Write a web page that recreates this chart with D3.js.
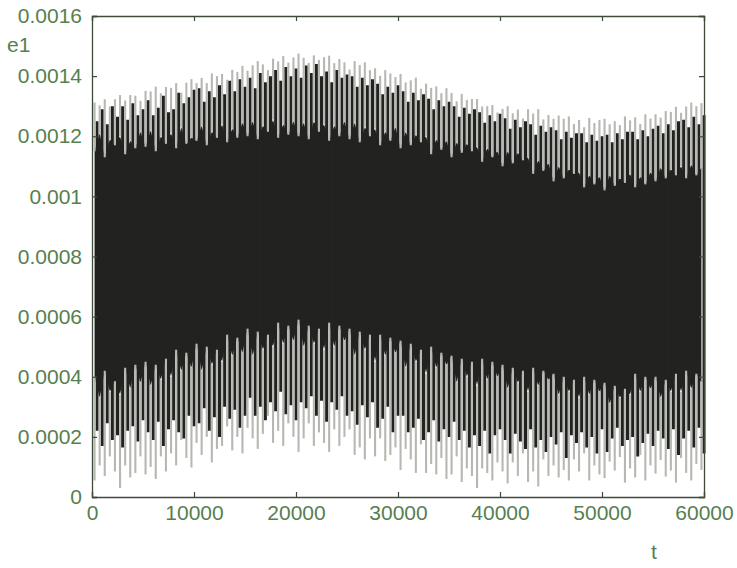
<!DOCTYPE html>
<html lang="en">
  <head>
    <meta charset="utf-8">
    <title>e1 vs t</title>
    <script src="https://d3js.org/d3.v7.min.js"></script>
    <style>
      body { margin: 0; background: #fff; }
      text { font-family: "Liberation Sans", Arial, sans-serif; }
    </style>
  </head>
  <body>
    <div id="chart"></div>
    <script type="text/javascript">
      // tick values
      var xTicks = [0, 10000, 20000, 30000, 40000, 50000, 60000];
      var yTicks = [0, 0.0002, 0.0004, 0.0006, 0.0008, 0.001, 0.0012, 0.0014, 0.0016];
      var yTickLabels = ["0", "0.0002", "0.0004", "0.0006", "0.0008", "0.001", "0.0012", "0.0014", "0.0016"];

      // one oscillation every 500 time units
      var cycleT = d3.range(250, 60000, 500);

      // upper tips of each oscillation (light spikes)
      var peaks = [
        0.001312, 0.001303, 0.001323, 0.001299, 0.001323,
        0.001337, 0.001319, 0.001337, 0.001335, 0.001318,
        0.001351, 0.001349, 0.001365, 0.001343, 0.001364,
        0.001361, 0.001377, 0.001345, 0.001378, 0.001390,
        0.001377, 0.001394, 0.001377, 0.001409, 0.001400,
        0.001407, 0.001388, 0.001421, 0.001414, 0.001434,
        0.001418, 0.001436, 0.001450, 0.001439, 0.001420,
        0.001458, 0.001449, 0.001467, 0.001445, 0.001462,
        0.001475, 0.001461, 0.001444, 0.001469, 0.001454,
        0.001463, 0.001468, 0.001443, 0.001457, 0.001446,
        0.001422, 0.001450, 0.001437, 0.001446, 0.001420,
        0.001426, 0.001401, 0.001420, 0.001409, 0.001397,
        0.001407, 0.001379, 0.001386, 0.001395, 0.001358,
        0.001375, 0.001361, 0.001366, 0.001343, 0.001360,
        0.001344, 0.001316, 0.001341, 0.001321, 0.001324,
        0.001324, 0.001299, 0.001300, 0.001304, 0.001279,
        0.001291, 0.001300, 0.001276, 0.001289, 0.001259,
        0.001290, 0.001276, 0.001290, 0.001256, 0.001271,
        0.001258, 0.001269, 0.001258, 0.001266, 0.001241,
        0.001254, 0.001230, 0.001261, 0.001244, 0.001254,
        0.001258, 0.001240, 0.001250, 0.001237, 0.001266,
        0.001253, 0.001263, 0.001241, 0.001273, 0.001259,
        0.001273, 0.001262, 0.001284, 0.001281, 0.001298,
        0.001278, 0.001299, 0.001312, 0.001300, 0.001310
      ];

      // lower tips of each oscillation (light spikes)
      var troughs = [
        0.000055, 0.000105, 0.000070, 0.000135, 0.000085,
        0.000030, 0.000105, 0.000065, 0.000080, 0.000135,
        0.000075, 0.000100, 0.000060, 0.000135, 0.000085,
        0.000145, 0.000105, 0.000190, 0.000130, 0.000098,
        0.000180, 0.000140, 0.000200, 0.000115, 0.000160,
        0.000170, 0.000235, 0.000155, 0.000200, 0.000145,
        0.000230, 0.000195, 0.000160, 0.000210, 0.000270,
        0.000180, 0.000220, 0.000170, 0.000245, 0.000200,
        0.000150, 0.000195, 0.000245, 0.000170, 0.000215,
        0.000180, 0.000150, 0.000225, 0.000170, 0.000200,
        0.000225, 0.000140, 0.000165, 0.000125, 0.000195,
        0.000135, 0.000195, 0.000120, 0.000140, 0.000165,
        0.000090, 0.000160, 0.000125, 0.000080, 0.000175,
        0.000080, 0.000110, 0.000075, 0.000130, 0.000060,
        0.000075, 0.000135, 0.000050, 0.000095, 0.000070,
        0.000030, 0.000095, 0.000080, 0.000055, 0.000115,
        0.000085, 0.000045, 0.000115, 0.000070, 0.000145,
        0.000050, 0.000085, 0.000035, 0.000125, 0.000070,
        0.000105, 0.000065, 0.000090, 0.000055, 0.000125,
        0.000085, 0.000145, 0.000055, 0.000105, 0.000075,
        0.000063, 0.000118, 0.000088, 0.000133, 0.000048,
        0.000095, 0.000065, 0.000140, 0.000055, 0.000105,
        0.000078, 0.000123, 0.000068, 0.000088, 0.000048,
        0.000130, 0.000080, 0.000055, 0.000110, 0.000090
      ];

      // secondary (dark) swings between the light spikes, half a cycle later
      var innerPeaks = [
        0.001250, 0.001290, 0.001240, 0.001300, 0.001265,
        0.001300, 0.001255, 0.001310, 0.001270, 0.001290,
        0.001320, 0.001270, 0.001295, 0.001335, 0.001280,
        0.001290, 0.001345, 0.001310, 0.001330, 0.001355,
        0.001360, 0.001315, 0.001350, 0.001330, 0.001370,
        0.001340, 0.001385, 0.001350, 0.001390, 0.001365,
        0.001395, 0.001360, 0.001410, 0.001380, 0.001400,
        0.001420, 0.001385, 0.001430, 0.001400, 0.001425,
        0.001395, 0.001435, 0.001410, 0.001440, 0.001400,
        0.001415, 0.001380, 0.001420, 0.001395, 0.001405,
        0.001400, 0.001365, 0.001395, 0.001370, 0.001390,
        0.001375, 0.001340, 0.001365, 0.001345, 0.001370,
        0.001350, 0.001315, 0.001345, 0.001320, 0.001340,
        0.001325, 0.001290, 0.001320, 0.001300, 0.001315,
        0.001300, 0.001265, 0.001295, 0.001275, 0.001290,
        0.001280, 0.001245, 0.001270, 0.001250, 0.001275,
        0.001260, 0.001225, 0.001255, 0.001230, 0.001250,
        0.001240, 0.001205, 0.001235, 0.001215, 0.001230,
        0.001220, 0.001190, 0.001215, 0.001195, 0.001210,
        0.001210, 0.001180, 0.001205, 0.001185, 0.001200,
        0.001205, 0.001180, 0.001210, 0.001190, 0.001215,
        0.001215, 0.001190, 0.001220, 0.001200, 0.001225,
        0.001235, 0.001210, 0.001240, 0.001220, 0.001250,
        0.001255, 0.001230, 0.001265, 0.001240, 0.001270
      ];
      var innerTroughs = [
        0.000220, 0.000170, 0.000245, 0.000190, 0.000205,
        0.000165, 0.000220, 0.000235, 0.000185, 0.000255,
        0.000215, 0.000190, 0.000250, 0.000170, 0.000225,
        0.000255, 0.000215, 0.000195, 0.000270, 0.000235,
        0.000245, 0.000295, 0.000220, 0.000265, 0.000200,
        0.000300, 0.000260, 0.000290, 0.000230, 0.000270,
        0.000330, 0.000270, 0.000300, 0.000255, 0.000315,
        0.000285, 0.000350, 0.000275, 0.000305, 0.000255,
        0.000315, 0.000295, 0.000335, 0.000270, 0.000320,
        0.000250, 0.000315, 0.000290, 0.000335, 0.000270,
        0.000285, 0.000240, 0.000305, 0.000265, 0.000315,
        0.000230, 0.000260, 0.000300, 0.000215, 0.000270,
        0.000270, 0.000215, 0.000230, 0.000260, 0.000190,
        0.000215, 0.000255, 0.000185, 0.000225, 0.000200,
        0.000250, 0.000190, 0.000220, 0.000165, 0.000205,
        0.000170, 0.000220, 0.000145, 0.000205, 0.000225,
        0.000190, 0.000145, 0.000210, 0.000185, 0.000160,
        0.000225, 0.000165, 0.000190, 0.000150, 0.000200,
        0.000175, 0.000215, 0.000130, 0.000205, 0.000180,
        0.000215, 0.000165, 0.000200, 0.000145, 0.000225,
        0.000150, 0.000195, 0.000230, 0.000170, 0.000190,
        0.000200, 0.000135, 0.000180, 0.000210, 0.000170,
        0.000220, 0.000195, 0.000160, 0.000225, 0.000140,
        0.000195, 0.000220, 0.000165, 0.000230, 0.000145
      ];

      // how far each light spike shows before it sinks into the black band
      var upperReach = [
        0.001150, 0.001210, 0.001130, 0.001190, 0.001170,
        0.001200, 0.001140, 0.001185, 0.001160, 0.001215,
        0.001165, 0.001220, 0.001150, 0.001200, 0.001175,
        0.001210, 0.001160, 0.001230, 0.001175, 0.001195,
        0.001185, 0.001235, 0.001170, 0.001215, 0.001195,
        0.001240, 0.001180, 0.001225, 0.001195, 0.001245,
        0.001200, 0.001250, 0.001190, 0.001235, 0.001215,
        0.001255, 0.001195, 0.001240, 0.001205, 0.001250,
        0.001200, 0.001245, 0.001190, 0.001250, 0.001215,
        0.001240, 0.001185, 0.001235, 0.001200, 0.001250,
        0.001190, 0.001245, 0.001180, 0.001230, 0.001200,
        0.001225, 0.001170, 0.001215, 0.001185, 0.001230,
        0.001160, 0.001215, 0.001170, 0.001205, 0.001180,
        0.001200, 0.001140, 0.001190, 0.001155, 0.001185,
        0.001130, 0.001180, 0.001145, 0.001175, 0.001150,
        0.001165, 0.001115, 0.001160, 0.001130, 0.001150,
        0.001100, 0.001150, 0.001110, 0.001145, 0.001120,
        0.001130, 0.001075, 0.001120, 0.001085, 0.001110,
        0.001050, 0.001100, 0.001060, 0.001090, 0.001075,
        0.001080, 0.001030, 0.001070, 0.001040, 0.001065,
        0.001020, 0.001070, 0.001035, 0.001060, 0.001045,
        0.001075, 0.001030, 0.001065, 0.001040, 0.001080,
        0.001050, 0.001095, 0.001060, 0.001090, 0.001070,
        0.001100, 0.001060, 0.001105, 0.001070, 0.001095
      ];
      var lowerReach = [
        0.000400, 0.000330, 0.000420, 0.000350, 0.000385,
        0.000340, 0.000430, 0.000360, 0.000440, 0.000380,
        0.000450, 0.000370, 0.000440, 0.000390, 0.000460,
        0.000400, 0.000490, 0.000420, 0.000480, 0.000430,
        0.000510, 0.000420, 0.000500, 0.000440, 0.000490,
        0.000450, 0.000540, 0.000470, 0.000530, 0.000480,
        0.000560, 0.000470, 0.000550, 0.000490, 0.000540,
        0.000500, 0.000580, 0.000510, 0.000570, 0.000520,
        0.000590, 0.000500, 0.000570, 0.000510, 0.000560,
        0.000490, 0.000580, 0.000500, 0.000570, 0.000520,
        0.000560, 0.000470, 0.000550, 0.000490, 0.000540,
        0.000450, 0.000540, 0.000470, 0.000530, 0.000480,
        0.000520, 0.000430, 0.000510, 0.000450, 0.000490,
        0.000410, 0.000500, 0.000430, 0.000480, 0.000440,
        0.000470, 0.000380, 0.000460, 0.000400, 0.000450,
        0.000370, 0.000460, 0.000390, 0.000450, 0.000400,
        0.000440, 0.000360, 0.000430, 0.000380, 0.000420,
        0.000350, 0.000430, 0.000370, 0.000420, 0.000390,
        0.000410, 0.000340, 0.000400, 0.000350, 0.000390,
        0.000330, 0.000400, 0.000340, 0.000390, 0.000350,
        0.000380, 0.000310, 0.000370, 0.000330, 0.000360,
        0.000340, 0.000410, 0.000350, 0.000400, 0.000360,
        0.000400, 0.000330, 0.000390, 0.000350, 0.000410,
        0.000350, 0.000420, 0.000360, 0.000410, 0.000380
      ];

      var width = 737, height = 568;
      var svg = d3.select("#chart").append("svg")
        .attr("width", width)
        .attr("height", height);

      var xScale = d3.scaleLinear().domain([0, 60000]).range([92, 704]);
      var yScale = d3.scaleLinear().domain([0, 0.0016]).range([497, 16]);
      var half = 250; // half a cycle, in t

      var dark = "#222320";
      var light = "#b6b9b2";
      var plot = svg.append("g");

      // solid black band behind everything
      var band = d3.area()
        .x((d) => xScale(d))
        .y0((d, i) => yScale(lowerReach[i]))
        .y1((d, i) => yScale(upperReach[i]));
      plot.append("path")
        .datum(cycleT)
        .attr("d", band)
        .attr("fill", dark);

      // dark secondary swings (fill the gaps between light spikes)
      plot.selectAll(".inner")
        .data(cycleT)
        .enter()
        .append("line")
          .attr("class", "inner")
          .attr("x1", (d) => xScale(Math.min(d + half, 60000)))
          .attr("x2", (d) => xScale(Math.min(d + half, 60000)))
          .attr("y1", (d, i) => yScale(innerTroughs[i]))
          .attr("y2", (d, i) => yScale(innerPeaks[i]))
          .attr("stroke", dark)
          .attr("stroke-width", 3);

      // light spikes: the top part (peak down to the band) ...
      plot.selectAll(".spikeTop")
        .data(cycleT)
        .enter()
        .append("line")
          .attr("class", "spikeTop")
          .attr("x1", (d) => xScale(d))
          .attr("x2", (d) => xScale(d))
          .attr("y1", (d, i) => yScale(upperReach[i]))
          .attr("y2", (d, i) => yScale(peaks[i]))
          .attr("stroke", light)
          .attr("stroke-width", 2.1);

      // ... and the bottom part (trough up to the band)
      plot.selectAll(".spikeBottom")
        .data(cycleT)
        .enter()
        .append("line")
          .attr("class", "spikeBottom")
          .attr("x1", (d) => xScale(d))
          .attr("x2", (d) => xScale(d))
          .attr("y1", (d, i) => yScale(troughs[i]))
          .attr("y2", (d, i) => yScale(lowerReach[i]))
          .attr("stroke", light)
          .attr("stroke-width", 2.1);

      // axes (ticks inside, mirrored on top and right)
      var frameColor = "#3f4a3b";
      var labelColor = "#55804f";

      var axisB = svg.append("g")
        .attr("transform", "translate(0,497)")
        .call(d3.axisBottom(xScale).tickValues(xTicks).tickSize(-5).tickPadding(8).tickFormat(d3.format("d")));
      var axisT = svg.append("g")
        .attr("transform", "translate(0,16)")
        .call(d3.axisTop(xScale).tickValues(xTicks).tickSize(-5).tickFormat(""));
      var axisL = svg.append("g")
        .attr("transform", "translate(92,0)")
        .call(d3.axisLeft(yScale).tickValues(yTicks).tickSize(-5).tickPadding(10)
          .tickFormat((d, i) => yTickLabels[i]));
      var axisR = svg.append("g")
        .attr("transform", "translate(704,0)")
        .call(d3.axisRight(yScale).tickValues(yTicks).tickSize(-5).tickFormat(""));

      [axisB, axisT, axisL, axisR].forEach(function(g) {
        g.select(".domain").attr("stroke", frameColor).attr("stroke-width", 1.3);
        g.selectAll(".tick line").attr("stroke", frameColor).attr("stroke-width", 1.2);
        g.selectAll(".tick text")
          .attr("fill", labelColor)
          .style("font-size", "21px")
          .style("font-family", "'Liberation Sans', Arial, sans-serif");
      });

      // axis titles
      svg.append("text")
        .attr("x", 7)
        .attr("y", 52)
        .attr("fill", labelColor)
        .style("font-size", "21px")
        .text("e1");

      svg.append("text")
        .attr("x", 651)
        .attr("y", 559)
        .attr("fill", labelColor)
        .style("font-size", "21px")
        .text("t");
    </script>
  </body>
</html>
